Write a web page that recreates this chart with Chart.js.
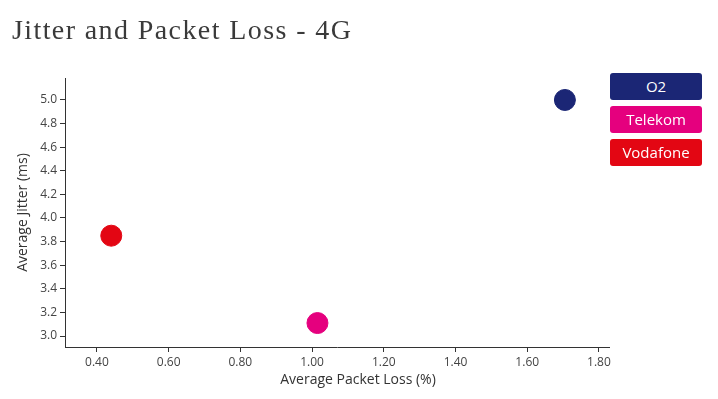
<!DOCTYPE html>
<html>
<head>
<meta charset="utf-8">
<script src="https://cdn.jsdelivr.net/npm/chart.js@4"></script>
<style>
  body { margin: 0; background: #fff; }
  #wrap { position: relative; width: 718px; height: 399px; }
  h1 {
    position: absolute; left: 12px; top: 14px; margin: 0; font-weight: normal;
    font-size: 28px; font-family: "Liberation Serif", serif; color: #3a3a3a; letter-spacing: 1.4px;
  }
  .leg {
    position: absolute; left: 610px; width: 92px; height: 27px;
    border-radius: 3px; color: #fff; text-align: center;
    font: 15px "Open Sans", sans-serif; line-height: 27px;
  }
</style>
</head>
<body>
<div id="wrap">
  <canvas id="myChart" width="718" height="399"></canvas>
  <h1>Jitter and Packet Loss - 4G</h1>
  <div id="legend"></div>
</div>
<script>
const operators = ['O2', 'Telekom', 'Vodafone'];
const packetLoss = [1.705, 1.015, 0.44];
const jitter = [5.00, 3.11, 3.85];
const colors = ['#1b2675', '#e5007e', '#e30613'];
const xTicks = [0.4, 0.6, 0.8, 1.0, 1.2, 1.4, 1.6, 1.8];
const yTicks = [3.0, 3.2, 3.4, 3.6, 3.8, 4.0, 4.2, 4.4, 4.6, 4.8, 5.0];
const xTitle = 'Average Packet Loss (%)';

const legend = document.getElementById('legend');
operators.forEach((name, i) => {
  const d = document.createElement('div');
  d.className = 'leg';
  d.style.top = (73 + i * 33) + 'px';
  d.style.background = colors[i];
  d.textContent = name;
  legend.appendChild(d);
});

const ctx = document.getElementById('myChart').getContext('2d');

const tickFont = { size: 12, family: 'Open Sans' };

// x axis title sits a little right of the plot centre in the original
const xTitlePlugin = {
  id: 'xTitle',
  afterDraw(chart) {
    const c = chart.ctx;
    const area = chart.chartArea;
    c.save();
    c.font = '14px "Open Sans"';
    c.fillStyle = '#333';
    c.textAlign = 'center';
    c.textBaseline = 'middle';
    c.fillText(xTitle, (area.left + area.right) / 2 + 21, 380);
    c.restore();
  }
};

const config = {
  type: 'scatter',
  data: {
    datasets: operators.map((name, i) => ({
      label: name,
      data: [{ x: packetLoss[i], y: jitter[i] }],
      backgroundColor: colors[i],
      borderColor: colors[i],
      pointRadius: 10.5,
      pointHoverRadius: 10.5
    }))
  },
  options: {
    responsive: false,
    animation: false,
    layout: { padding: { top: 78, right: 109, left: 0, bottom: 0 } },
    plugins: { legend: { display: false }, tooltip: { enabled: false } },
    scales: {
      x: {
        type: 'linear',
        min: 0.311,
        max: 1.828,
        afterBuildTicks: s => { s.ticks = xTicks.map(v => ({ value: v })); },
        afterFit: s => { s.height = 52; },
        grid: { drawOnChartArea: false, drawTicks: true, tickLength: 5, color: '#333' },
        border: { color: '#333', width: 1 },
        ticks: {
          color: '#444', font: tickFont, padding: 3, maxRotation: 0,
          callback: v => v.toFixed(2)
        }
      },
      y: {
        type: 'linear',
        min: 2.907,
        max: 5.186,
        afterBuildTicks: s => { s.ticks = yTicks.map(v => ({ value: v })); },
        afterFit: s => { s.width = 65; },
        grid: { drawOnChartArea: false, drawTicks: true, tickLength: 5, color: '#333' },
        border: { color: '#333', width: 1 },
        ticks: {
          color: '#444', font: tickFont, padding: 3,
          callback: v => v.toFixed(1)
        },
        title: { display: true, text: 'Average Jitter (ms)', color: '#333',
                 font: { size: 14, family: 'Open Sans' }, padding: { top: 15, bottom: 0 } }
      }
    }
  },
  plugins: [xTitlePlugin]
};

const myChart = new Chart(ctx, config);
</script>
</body>
</html>
